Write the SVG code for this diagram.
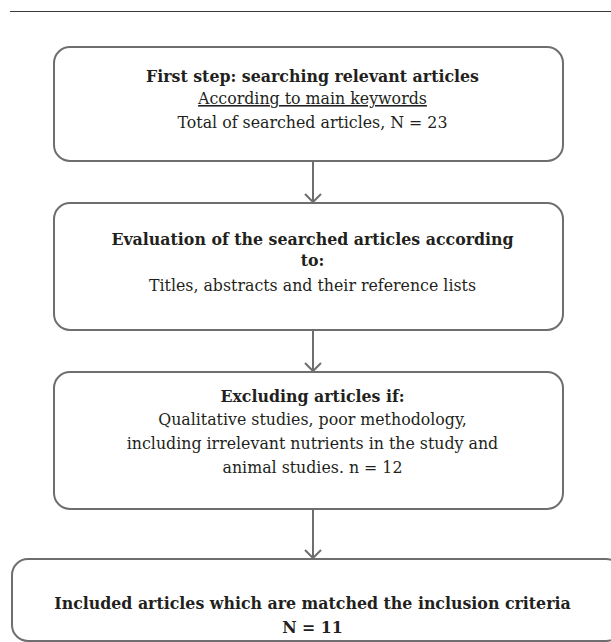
<svg xmlns="http://www.w3.org/2000/svg" width="611" height="642" viewBox="0 0 611 642">
<defs>
<style>
.box{fill:#fff;stroke:#6e6e6e;stroke-width:2}
.t{font-family:"DejaVu Serif","Liberation Serif",serif;font-size:15.8px;fill:#231f20;text-anchor:middle}
.b{font-weight:bold}
.c{stroke:#6e6e6e;stroke-width:2;fill:none}
</style>
<marker id="ah" markerWidth="20" markerHeight="20" refX="10" refY="10" orient="auto" markerUnits="userSpaceOnUse">
<path d="M2,2 L10,10 L2,18" fill="none" stroke="#6e6e6e" stroke-width="2"/>
</marker>
</defs>
<rect width="611" height="642" fill="#fff"/>
<line x1="10" y1="11.5" x2="611" y2="11.5" stroke="#3a3a3a" stroke-width="1"/>
<g id="connectors">
<line class="c" x1="313" y1="161" x2="313" y2="202" marker-end="url(#ah)"/>
<line class="c" x1="313" y1="330" x2="313" y2="371" marker-end="url(#ah)"/>
<line class="c" x1="313" y1="509" x2="313" y2="558" marker-end="url(#ah)"/>
</g>
<g id="n1">
<rect class="box" x="54" y="47" width="509" height="114" rx="16"/>
<text class="t b" x="312.5" y="82">First step: searching relevant articles</text>
<text class="t" x="312.5" y="104" text-decoration="underline">According to main keywords</text>
<text class="t" x="312.5" y="128">Total of searched articles, N = 23</text>
</g>
<g id="n2">
<rect class="box" x="54" y="203" width="509" height="127" rx="16"/>
<text class="t b" x="312.5" y="245">Evaluation of the searched articles according</text>
<text class="t b" x="312.5" y="266">to:</text>
<text class="t" x="312.5" y="291">Titles, abstracts and their reference lists</text>
</g>
<g id="n3">
<rect class="box" x="54" y="372" width="509" height="137" rx="16"/>
<text class="t b" x="312.5" y="402">Excluding articles if:</text>
<text class="t" x="312.5" y="425">Qualitative studies, poor methodology,</text>
<text class="t" x="312.5" y="449">including irrelevant nutrients in the study and</text>
<text class="t" x="312.5" y="473">animal studies. n = 12</text>
</g>
<g id="n4">
<rect class="box" x="12" y="559" width="610" height="82" rx="16"/>
<text class="t b" x="312.5" y="609">Included articles which are matched the inclusion criteria</text>
<text class="t b" x="312.5" y="633">N = 11</text>
</g>
</svg>
